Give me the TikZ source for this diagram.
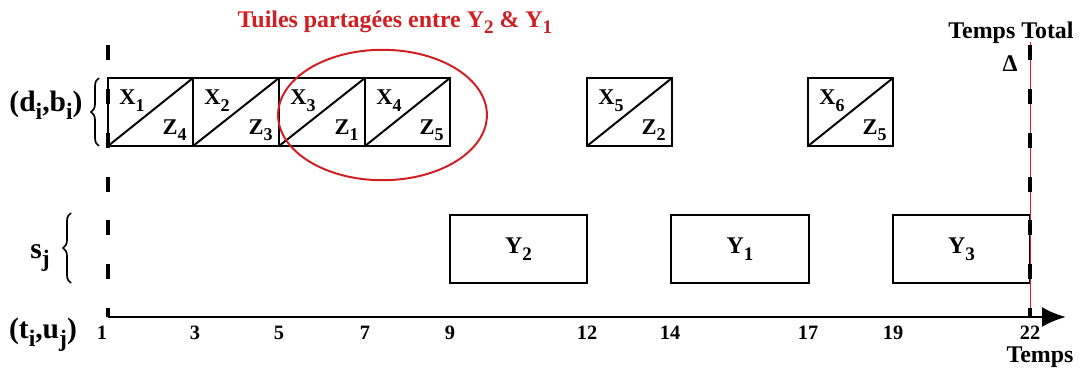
\documentclass[tikz,border=0pt]{standalone}
\usepackage{fontspec}
\usepackage{graphicx}
\setmainfont{Liberation Serif}
\usetikzlibrary{arrows.meta,decorations.pathreplacing}
\definecolor{rouge}{RGB}{210,30,35}
\newcommand{\ind}[1]{\raisebox{-0.28em}{\scalebox{0.8}{#1}}}

\begin{document}
\begin{tikzpicture}[x=0.025cm,y=-0.025cm,
  tile/.style={draw,line width=2pt,minimum height=1.7cm,inner sep=0pt,outer sep=0pt},
  diag/.style={line width=1.4pt},
  lbl/.style={font=\fontsize{16}{18}\selectfont\bfseries,inner sep=0pt},
  ylbl/.style={font=\fontsize{17}{19}\selectfont\bfseries},
  rowlbl/.style={font=\fontsize{21}{24}\selectfont\bfseries,inner sep=0pt},
  tick/.style={font=\fontsize{14.5}{16}\selectfont\bfseries,inner sep=0pt},
  big/.style={font=\fontsize{17}{19}\selectfont\bfseries,inner sep=0pt},
  limit/.style={line width=2.5pt,dash pattern=on 10.6pt off 20.6pt},
  accol/.style={decorate,decoration={brace,amplitude=0.2cm},line width=1.2pt}]
  \useasboundingbox (0,0) rectangle (1081,369);
  \coordinate (o) at (108,317); \coordinate (otop) at (108,45);
  \coordinate (d) at (1030,317); \coordinate (dtop) at (1030,42);
  \coordinate (fin) at (1066,317);
  \foreach \a/\b/\n/\m in {108/193/1/4,193/279/2/3,279/365/3/1,365/450/4/5,587/672/5/2,808/893/6/5} {
    \node[tile,minimum width={(\b-\a)*0.025cm}] (t\n) at ({(\a+\b)/2},112) {};
    \draw[diag] (t\n.south west) -- (t\n.north east);
    \node[lbl,anchor=base west] (xl\n) at ([shift={(11,27)}]t\n.north west) {X\ind{\n}};
    \node[lbl,anchor=base east] (zl\n) at ([shift={(-6,-12)}]t\n.south east) {Z\ind{\m}};
  }
  \foreach \a/\b/\n in {450/587/2,671/809/1,893/1030/3}
    \node[tile,ylbl,minimum width={(\b-\a)*0.025cm}] (y\n) at ({(\a+\b)/2},249) {Y\ind{\n}};
  \draw[rouge,line width=1.4pt] (382.5,115) ellipse [x radius=2.61cm,y radius=1.63cm];
  \node[big,text=rouge,anchor=base] (titre) at (395,27) {Tuiles partagées entre Y\ind{2} \& Y\ind{1}};
  \draw[rouge,line width=0.6pt] (dtop) -- (d);
  \draw[limit] (otop) -- (o);
  \draw[limit] (1030,45) -- (d);
  \draw[line width=2pt,-{Latex[length=0.6cm,width=0.5cm]}] (o) -- (fin);
  \foreach \v/\p in {1/102,3/195,5/279,7/365,9/450,12/587,14/670,17/808,19/893,22/1030}
    \node[tick] (n\v) at (\p,333) {\v};
  \node[big] (temps) at (1040,357) {Temps};
  \node[big] (total) at (1011,33) {Temps Total};
  \node[big] (delta) at (1010,64) {Δ};
  \draw[accol] (99,146) -- (99,78);
  \draw[accol] (71,283) -- (71,213);
  \node[rowlbl] (db) at (46,105) {(d\ind{i},b\ind{i})};
  \node[rowlbl] (sj) at (40,258) {s\ind{j}};
  \node[rowlbl] (tu) at (43,335) {(t\ind{i},u\ind{j})};
\end{tikzpicture}
\end{document}
